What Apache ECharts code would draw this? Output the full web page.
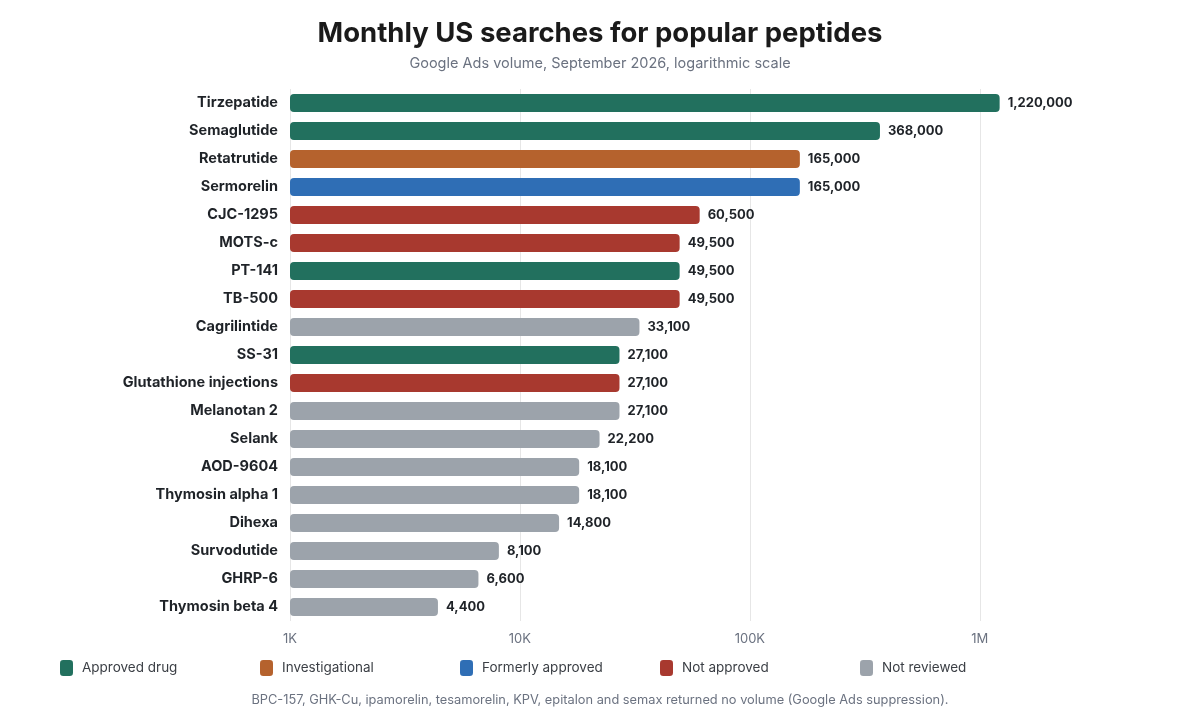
<!DOCTYPE html>
<html>
<head>
<meta charset="utf-8">
<title>Monthly US searches for popular peptides</title>
<script src="https://cdn.jsdelivr.net/npm/echarts@6/dist/echarts.min.js"></script>
<style>
  html, body { margin: 0; padding: 0; background: #fff; }
  #chart { width: 1200px; height: 724px; }
</style>
</head>
<body>
<div id="chart"></div>
<script>
// peptides, top to bottom
var peptides = ['Tirzepatide', 'Semaglutide', 'Retatrutide', 'Sermorelin', 'CJC-1295', 'MOTS-c', 'PT-141', 'TB-500',
  'Cagrilintide', 'SS-31', 'Glutathione injections', 'Melanotan 2', 'Selank', 'AOD-9604', 'Thymosin alpha 1',
  'Dihexa', 'Survodutide', 'GHRP-6', 'Thymosin beta 4'];
var searches = [1220000, 368000, 165000, 165000, 60500, 49500, 49500, 49500,
  33100, 27100, 27100, 27100, 22200, 18100, 18100, 14800, 8100, 6600, 4400];
// not "status": window.status turns arrays into strings
var approval = ['Approved drug', 'Approved drug', 'Investigational', 'Formerly approved', 'Not approved', 'Not approved',
  'Approved drug', 'Not approved', 'Not reviewed', 'Approved drug', 'Not approved', 'Not reviewed', 'Not reviewed',
  'Not reviewed', 'Not reviewed', 'Not reviewed', 'Not reviewed', 'Not reviewed', 'Not reviewed'];
var groups = ['Approved drug', 'Investigational', 'Formerly approved', 'Not approved', 'Not reviewed'];
var groupColors = ['#22705e', '#b5622d', '#2f6eb5', '#a8392f', '#9ca3ab'];
var xTicks = [1000, 10000, 100000, 1000000];
var tickNames = ['1K', '10K', '100K', '1M'];
var note = 'BPC-157, GHK-Cu, ipamorelin, tesamorelin, KPV, epitalon and semax returned no volume (Google Ads suppression).';

var FONT = 'Inter, "Noto Sans", sans-serif';

function fmt(v) {
  return String(v).replace(/\B(?=(\d{3})+(?!\d))/g, ',');
}

// one series per group, overlapping on the same row
var series = groups.map(function (g, k) {
  return {
    name: g,
    type: 'bar',
    barWidth: 18,
    barGap: '-100%',
    itemStyle: { color: groupColors[k], borderRadius: 4 },
    label: {
      show: true,
      position: 'right',
      distance: 8,
      color: '#1f2328',
      fontFamily: FONT,
      fontWeight: 'bold',
      fontSize: 13,
      formatter: function (p) { return fmt(p.value); }
    },
    data: searches.map(function (v, i) { return approval[i] == g ? v : '-'; })
  };
});

// legends spaced evenly
var legends = groups.map(function (g, k) {
  return {
    data: [g],
    left: 55 + k * 200,
    top: 655,
    itemWidth: 13,
    itemHeight: 16,
    itemStyle: { borderRadius: 4 },
    icon: 'roundRect',
    selectedMode: false,
    textStyle: { fontFamily: FONT, fontSize: 13.5, color: '#3b3f45', padding: [0, 0, 0, 4] }
  };
});

var chart = echarts.init(document.getElementById('chart'));
chart.setOption({
  animation: false,
  title: [{
    text: 'Monthly US searches for popular peptides',
    left: 'center',
    top: 15,
    textStyle: { fontFamily: FONT, fontSize: 27.5, fontWeight: 'bold', color: '#1a1a1a' }
  }, {
    text: 'Google Ads volume, September 2026, logarithmic scale',
    left: 'center',
    top: 51,
    textStyle: { fontFamily: FONT, fontSize: 14.5, fontWeight: 'normal', color: '#6b7280' }
  }, {
    text: note,
    left: 'center',
    top: 689,
    textStyle: { fontFamily: FONT, fontSize: 12.8, fontWeight: 'normal', color: '#6b7280' }
  }],
  legend: legends,
  grid: { left: 290, right: 151, top: 89, bottom: 103 },
  xAxis: {
    type: 'log',
    min: 1000,
    max: 2000000,
    startValue: 1000,
    axisLine: { show: false },
    axisTick: { show: false },
    splitLine: { show: true, showMaxLine: false, lineStyle: { color: '#e6e6e6' } },
    axisLabel: {
      showMaxLabel: false,
      margin: 12,
      color: '#6b7280',
      fontFamily: FONT,
      fontSize: 13,
      formatter: function (v) {
        var i = xTicks.indexOf(Math.round(v));
        return i >= 0 ? tickNames[i] : '';
      }
    }
  },
  yAxis: {
    type: 'category',
    inverse: true,
    data: peptides,
    axisLine: { show: false },
    axisTick: { show: false },
    axisLabel: {
      margin: 12,
      color: '#1f2328',
      fontFamily: FONT,
      fontWeight: 'bold',
      fontSize: 14.5
    }
  },
  series: series
});
</script>
</body>
</html>
